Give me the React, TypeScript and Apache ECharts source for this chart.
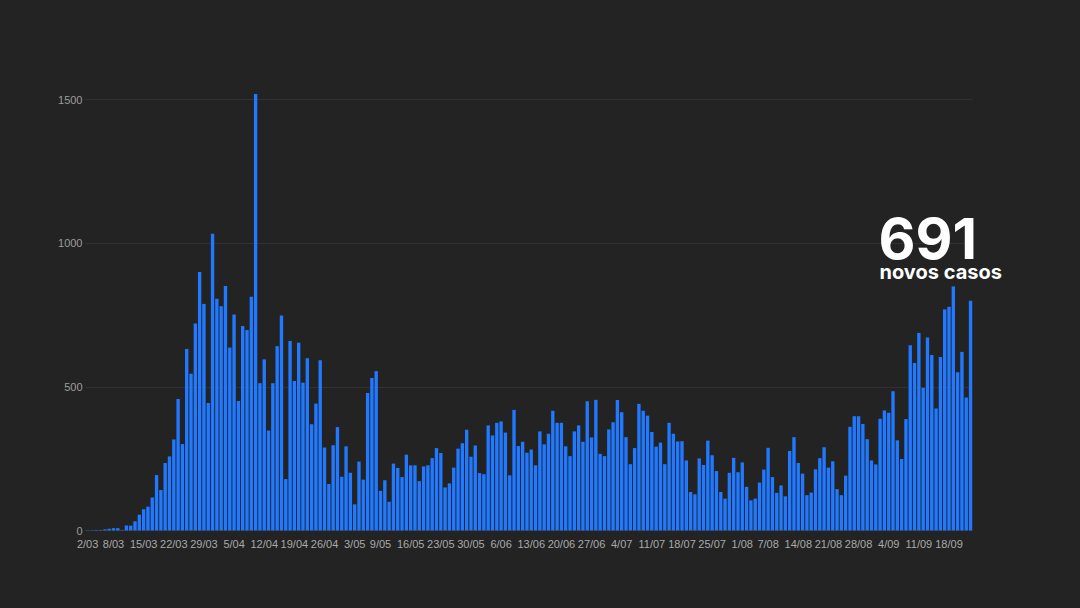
import React, { useEffect, useRef } from "react";
import * as echarts from "echarts";

// Daily new cases, one value per day
const marchCases = [
  1, 1, 2, 2, 4, 6, 8, 8, 2, 17, 17, 32, 55, 74, 83, 115, 193, 141, 235, 258,
  317, 458, 301, 632, 546, 721, 900, 789, 444, 1033,
]; // 2/03 – 31/03
const aprilCases = [
  807, 781, 851, 637, 752, 451, 712, 698, 814, 1520, 513, 596, 348, 513, 642,
  749, 179, 660, 521, 654, 515, 600, 370, 442, 593, 289, 162, 297, 360, 187,
]; // 1/04 – 30/04
const mayCases = [
  293, 201, 91, 240, 177, 479, 531, 555, 138, 175, 100, 233, 218, 186, 264, 227,
  227, 172, 223, 227, 252, 287, 270, 150, 164, 219, 285, 304, 351, 257, 296,
]; // 1/05 – 31/05
const juneCases = [
  200, 196, 366, 331, 375, 380, 341, 192, 420, 294, 309, 271, 282, 227, 345,
  300, 337, 417, 375, 375, 293, 259, 345, 366, 309, 450, 324, 455, 267, 259,
]; // 1/06 – 30/06
const julyCases = [
  352, 377, 454, 412, 325, 231, 287, 441, 417, 400, 343, 292, 306, 231, 375,
  337, 310, 311, 244, 134, 126, 251, 228, 313, 262, 207, 134, 111, 201, 253, 203,
]; // 1/07 – 31/07
const augustCases = [
  237, 152, 105, 111, 167, 212, 288, 186, 131, 157, 119, 277, 325, 235, 198,
  123, 132, 213, 252, 290, 219, 241, 144, 123, 191, 361, 398, 398, 371, 318, 244,
]; // 1/08 – 31/08
const septemberCases = [
  230, 389, 418, 410, 485, 314, 249, 388, 645, 583, 688, 497, 672, 611, 425,
  604, 770, 779, 850, 551, 622, 463, 800,
]; // 1/09 – 23/09

const monthBlocks = [
  { month: "03", firstDay: 2, values: marchCases },
  { month: "04", firstDay: 1, values: aprilCases },
  { month: "05", firstDay: 1, values: mayCases },
  { month: "06", firstDay: 1, values: juneCases },
  { month: "07", firstDay: 1, values: julyCases },
  { month: "08", firstDay: 1, values: augustCases },
  { month: "09", firstDay: 1, values: septemberCases },
];

const tickLabels = [
  "2/03", "8/03", "15/03", "22/03", "29/03", "5/04", "12/04", "19/04", "26/04",
  "3/05", "9/05", "16/05", "23/05", "30/05", "6/06", "13/06", "20/06", "27/06",
  "4/07", "11/07", "18/07", "25/07", "1/08", "7/08", "14/08", "21/08", "28/08",
  "4/09", "11/09", "18/09",
];

const yTicks = [0, 500, 1000, 1500];

const headlineNumber = "691";
const headlineText = "novos casos";

const categories: string[] = [];
const cases: number[] = [];
monthBlocks.forEach((b) => {
  b.values.forEach((v, i) => {
    categories.push(`${b.firstDay + i}/${b.month}`);
    cases.push(v);
  });
});

export default function App() {
  const ref = useRef<HTMLDivElement>(null);

  useEffect(() => {
    if (!ref.current) return;
    const chart = echarts.init(ref.current, undefined, { renderer: "svg" });
    const tickSet = new Set(tickLabels);
    const yTickSet = new Set(yTicks);
    chart.setOption({
      animation: false,
      backgroundColor: "#232323",
      grid: { left: 85.5, right: 107.3, top: 94, bottom: 77.5 },
      xAxis: {
        type: "category",
        data: categories,
        boundaryGap: true,
        axisLine: { show: false },
        axisTick: { show: false },
        axisLabel: {
          interval: (_i: number, v: string) => tickSet.has(v),
          color: "#a9a9a9",
          fontSize: 11,
          fontFamily: "Liberation Sans",
          margin: 8,
          hideOverlap: false,
        },
        splitLine: { show: false },
      },
      yAxis: {
        type: "value",
        min: yTicks[0],
        max: "dataMax",
        interval: yTicks[1] - yTicks[0],
        axisLine: { show: false },
        axisTick: { show: false },
        axisLabel: {
          color: "#9c9c9c",
          fontSize: 11,
          fontFamily: "Liberation Sans",
          margin: 3,
          showMaxLabel: false,
          formatter: (v: number) => (yTickSet.has(v) ? String(v) : ""),
        },
        splitLine: {
          showMaxLine: false,
          lineStyle: { color: "#313131", width: 1 },
        },
      },
      series: [
        {
          type: "bar",
          data: cases,
          barCategoryGap: "22%",
          itemStyle: { color: "#2079ff" },
        },
      ],
      graphic: [
        {
          type: "text",
          x: 878.5,
          y: 238.5,
          z: 100,
          style: {
            text: headlineNumber,
            fill: "#ffffff",
            font: "700 57px Inter",
            lineHeight: 44,
            verticalAlign: "middle",
            align: "left",
          },
        },
        {
          type: "text",
          x: 879.5,
          y: 271.5,
          z: 100,
          style: {
            text: headlineText,
            fill: "#ffffff",
            font: "700 20px Inter",
            lineHeight: 15,
            verticalAlign: "middle",
            align: "left",
          },
        },
      ],
    });
    return () => chart.dispose();
  }, []);

  return (
    <div
      ref={ref}
      style={{
        position: "absolute",
        left: 0,
        top: 0,
        width: 1080,
        height: 608,
        background: "#232323",
      }}
    />
  );
}
